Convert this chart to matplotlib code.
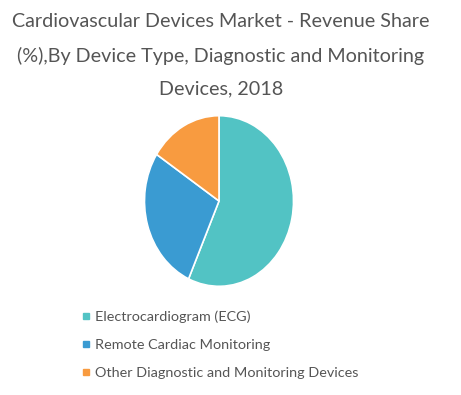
import matplotlib.pyplot as plt
from matplotlib.lines import Line2D

# 数据
labels = ['Electrocardiogram (ECG)', 'Remote Cardiac Monitoring',
          'Other Diagnostic and Monitoring Devices']
shares = [56.7, 27.5, 15.8]
colors = ['#52c3c4', '#3a9bd2', '#f89b40']

title = ('Cardiovascular Devices Market - Revenue Share\n'
         '(%),By Device Type, Diagnostic and Monitoring\n'
         'Devices, 2018')

plt.rcParams['font.family'] = ['Lato', 'DejaVu Sans']

fig = plt.figure(figsize=(4.61, 3.95), dpi=100)
fig.text(221 / 461, 1 - 13 / 395, title, ha='center', va='top', fontsize=14.2,
         color='#555555', linespacing=2.1)

# 饼图 (原图略微拉伸成椭圆)
ax = fig.add_axes([143 / 461, 1 - 288 / 395, 152 / 461, 174 / 395])
ax.pie(shares, colors=colors, startangle=90, counterclock=False,
       wedgeprops=dict(edgecolor='white', linewidth=1.2))
ax.set_aspect('auto')
ax.set_xlim(-1.02, 1.02)
ax.set_ylim(-1.02, 1.02)

handles = [Line2D([], [], marker='s', linestyle='none', markersize=5,
                  markerfacecolor=c, markeredgecolor=c) for c in colors]
leg = fig.legend(handles, labels, loc='upper left',
                 bbox_to_anchor=(74 / 461, 1 - 303 / 395), frameon=False,
                 fontsize=10.4, labelspacing=1.12, handlelength=0.6,
                 handletextpad=0.35, borderpad=0)
for t in leg.get_texts():
    t.set_color('#555555')

fig.savefig('out.png', dpi=100)
